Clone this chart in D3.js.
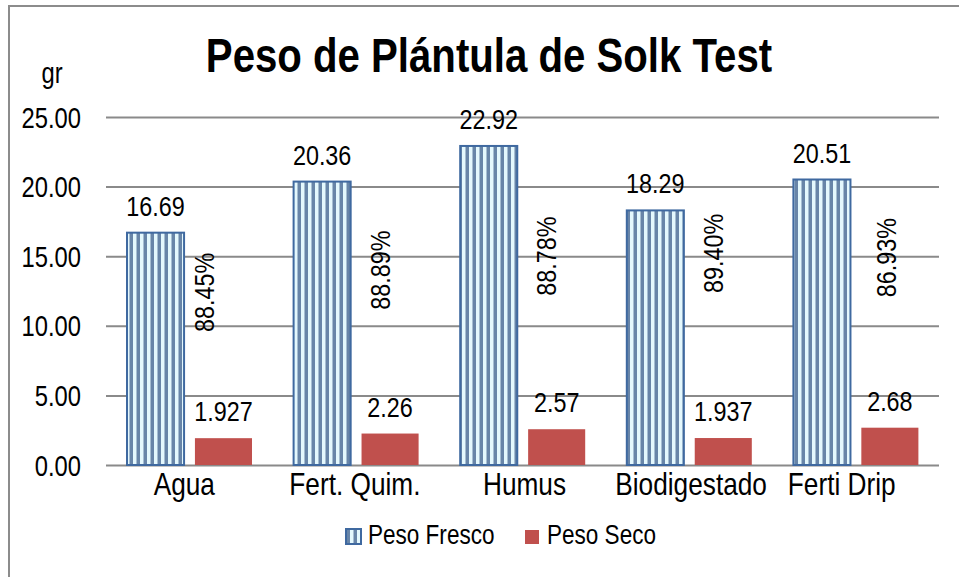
<!DOCTYPE html>
<html>
<head>
<meta charset="utf-8">
<script src="https://cdn.jsdelivr.net/npm/d3@7"></script>
<style>
  html, body { margin: 0; padding: 0; background: #fff; }
  svg { display: block; }
  text { font-family: "Liberation Sans", Arial, sans-serif; fill: #000; }
</style>
</head>
<body>
<svg id="chart" width="959" height="577"></svg>
<script>
// ---- data ----
const categories = ["Agua", "Fert. Quim.", "Humus", "Biodigestado", "Ferti Drip"];
const series = ["Peso Fresco", "Peso Seco"];
const pesoFresco = [16.69, 20.36, 22.92, 18.29, 20.51];
const pesoSeco = [1.927, 2.26, 2.57, 1.937, 2.68];
const pesoSecoLabels = ["1.927", "2.26", "2.57", "1.937", "2.68"];
const pctLabels = ["88.45%", "88.89%", "88.78%", "89.40%", "86.93%"];
const pctLabelAnchor = [12.4, 14.0, 15.0, 15.2, 14.9]; // label centre, in y-axis units
const yTicks = [0, 5, 10, 15, 20, 25];
const title = "Peso de Plántula de Solk Test";
const yUnit = "gr";

// ---- layout ----
const svg = d3.select("#chart");
const plot = { left: 106, right: 939, top: 117, bottom: 465 };
const pctDx = [9, 18, 18, 18, 25];
const catDx = [-5, -1, 2, 2, -14];
const NARROW = 0.82; // emulate Arial Narrow

const x = d3.scaleBand().domain(categories).range([plot.left, plot.right]).paddingInner(0).paddingOuter(0);
const xs = d3.scaleBand().domain(series).range([21, 146]).paddingInner(0.16).paddingOuter(0);
const y = d3.scaleLinear().domain([0, 25]).range([plot.bottom, plot.top]);

function ntext(parent, px, py, str, size, anchor, extra) {
  return parent.append("text")
    .attr("transform", `translate(${px},${py}) ${extra || ""} scale(${NARROW},1)`)
    .attr("text-anchor", anchor || "start")
    .style("font-size", size + "px")
    .text(str);
}

// pattern for Peso Fresco
const defs = svg.append("defs");
const pat = defs.append("pattern").attr("id", "stripes").attr("patternUnits", "userSpaceOnUse")
  .attr("width", 7).attr("height", 10);
pat.append("rect").attr("width", 7).attr("height", 10).attr("fill", "#e4f8fd");
pat.append("rect").attr("x", 3.5).attr("width", 3.5).attr("height", 10).attr("fill", "#6885a8");

// outer border
svg.append("rect").attr("x", 9).attr("y", 6).attr("width", 980).attr("height", 600)
  .attr("fill", "none").attr("stroke", "#8c8c8c").attr("stroke-width", 2);

// title
ntext(svg, 489, 72, title, 49, "middle").style("font-weight", "bold");

// y unit
ntext(svg, 52, 83, yUnit, 29, "middle");

// gridlines + y axis
const yAxis = d3.axisLeft(y).tickValues(yTicks).tickFormat(d3.format(".2f"))
  .tickSize(-(plot.right - plot.left)).tickPadding(25);
const gy = svg.append("g").attr("transform", `translate(${plot.left},0)`).call(yAxis);
gy.select(".domain").remove();
gy.selectAll(".tick line").attr("stroke", "#8a8a8a").attr("stroke-width", 2);
gy.selectAll(".tick text")
  .attr("x", null).attr("dy", "0.35em")
  .attr("transform", `translate(-25,0) scale(${NARROW},1)`)
  .style("font-size", "29px").style("font-family", '"Liberation Sans", Arial, sans-serif').attr("fill", "#000");

// bars
const g = svg.append("g");
categories.forEach((c, i) => {
  const x0 = x(c);
  g.append("rect").attr("x", x0 + xs("Peso Fresco")).attr("y", y(pesoFresco[i]))
    .attr("width", xs.bandwidth()).attr("height", y(0) - y(pesoFresco[i]))
    .attr("fill", "url(#stripes)").attr("stroke", "#3f69a0").attr("stroke-width", 2);
  g.append("rect").attr("x", x0 + xs("Peso Seco")).attr("y", y(pesoSeco[i]))
    .attr("width", xs.bandwidth()).attr("height", y(0) - y(pesoSeco[i]))
    .attr("fill", "#c0504d");
  ntext(g, x0 + xs("Peso Fresco") + xs.bandwidth() / 2, y(pesoFresco[i]) - 17,
    d3.format(".2f")(pesoFresco[i]), 28.5, "middle");
  ntext(g, x0 + xs("Peso Seco") + xs.bandwidth() / 2, y(pesoSeco[i]) - 17,
    pesoSecoLabels[i], 28.5, "middle");
  const px = x0 + xs("Peso Seco") + pctDx[i];
  const py = y(pctLabelAnchor[i]);
  ntext(g, px, py, pctLabels[i], 28.5, "middle", "rotate(-90)").attr("dy", "0.35em");
});

// x axis labels
const xAxis = d3.axisBottom(x).tickSize(0).tickPadding(6);
const gx = svg.append("g").attr("transform", `translate(0,${plot.bottom})`).call(xAxis);
gx.select(".domain").remove();
gx.selectAll(".tick text")
  .attr("y", null).attr("dy", "0.75em")
  .attr("transform", (d, i) => `translate(${catDx[i]},6) scale(${NARROW},1)`)
  .style("font-size", "32px").style("font-family", '"Liberation Sans", Arial, sans-serif').attr("fill", "#000");

// legend
const lg = svg.append("g");
lg.append("rect").attr("x", 346).attr("y", 529).attr("width", 15).attr("height", 15)
  .attr("fill", "url(#stripes)").attr("stroke", "#3f69a0").attr("stroke-width", 2);
ntext(lg, 368, 544, series[0], 27.5, "start");
lg.append("rect").attr("x", 525).attr("y", 530).attr("width", 14).attr("height", 14).attr("fill", "#c0504d");
ntext(lg, 547, 544, series[1], 27.5, "start");
</script>
</body>
</html>
